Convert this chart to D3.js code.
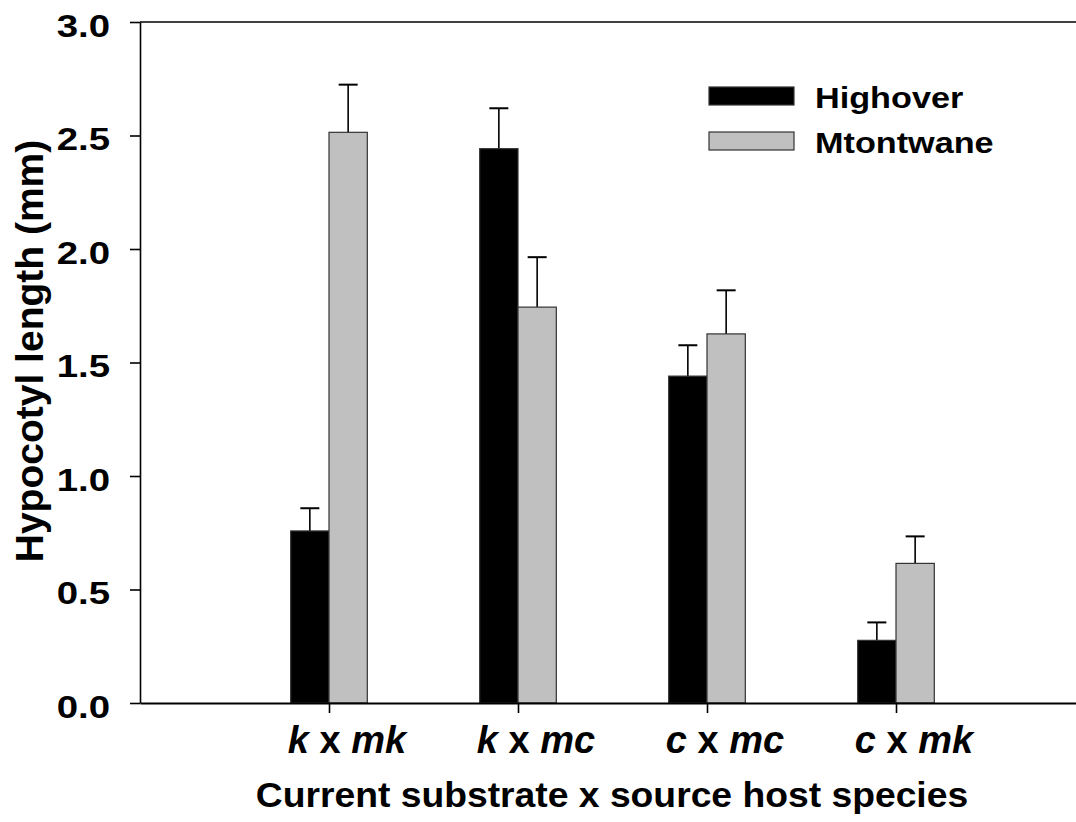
<!DOCTYPE html>
<html>
<head>
<meta charset="utf-8">
<script src="https://cdn.jsdelivr.net/npm/d3@7"></script>
<style>
  html, body { margin: 0; padding: 0; background: #fff; }
  svg { display: block; font-family: "Liberation Sans", Arial, Helvetica, sans-serif; font-weight: bold; }
</style>
</head>
<body>
<svg id="chart" width="1076" height="822"></svg>
<script>
// Hypocotyl length by substrate x host combination, two populations
const categories = [
  [{t: "k", i: true}, {t: " x ", i: false}, {t: "mk", i: true}],
  [{t: "k", i: true}, {t: " x ", i: false}, {t: "mc", i: true}],
  [{t: "c", i: true}, {t: " x ", i: false}, {t: "mc", i: true}],
  [{t: "c", i: true}, {t: " x ", i: false}, {t: "mk", i: true}]
];
const seriesNames = ["Highover", "Mtontwane"];
const highoverMean = [0.758, 2.442, 1.440, 0.276];
const highoverSE   = [0.100, 0.178, 0.136, 0.079];
const mtontwaneMean = [2.514, 1.744, 1.626, 0.615];
const mtontwaneSE   = [0.210, 0.220, 0.192, 0.119];
const yTicks = [0, 0.5, 1.0, 1.5, 2.0, 2.5, 3.0];
const seriesFill = ["#000000", "#c0c0c0"];

const svg = d3.select("#chart");
const plotLeft = 140, plotTop = 22, plotBottom = 703, plotRight = 1076;

const y = d3.scaleLinear().domain([0, 3]).range([plotBottom, plotTop]);
// categories sit at 1..4 on a continuous x axis
const x = d3.scaleLinear().domain([0, 5]).range([plotLeft, plotLeft + 5 * 189]);
const barW = x(0.2027) - x(0);

const data = categories.map((c, i) => ({
  pos: i + 1,
  vals: [
    {s: 0, mean: highoverMean[i], se: highoverSE[i]},
    {s: 1, mean: mtontwaneMean[i], se: mtontwaneSE[i]}
  ]
}));

// error bars (upper only), drawn before bars so bars cover the stem base
const eg = svg.append("g");
data.forEach(d => {
  d.vals.forEach(v => {
    const cx = v.s === 0 ? x(d.pos) - barW / 2 : x(d.pos) + barW / 2;
    eg.append("line")
      .attr("x1", cx).attr("x2", cx)
      .attr("y1", y(v.mean)).attr("y2", y(v.mean + v.se))
      .attr("stroke", "#000").attr("stroke-width", 1.6);
    eg.append("line")
      .attr("x1", cx - 9.5).attr("x2", cx + 9.5)
      .attr("y1", y(v.mean + v.se)).attr("y2", y(v.mean + v.se))
      .attr("stroke", "#000").attr("stroke-width", 2);
  });
});

// bars
const bg = svg.append("g");
data.forEach(d => {
  d.vals.forEach(v => {
    const x0 = v.s === 0 ? x(d.pos) - barW : x(d.pos);
    bg.append("rect")
      .attr("x", x0).attr("width", barW)
      .attr("y", y(v.mean)).attr("height", y(0) - y(v.mean))
      .attr("fill", seriesFill[v.s])
      .attr("stroke", "#333").attr("stroke-width", 1.2);
  });
});

// top frame line
svg.append("line")
  .attr("x1", plotLeft).attr("x2", plotRight)
  .attr("y1", y(3)).attr("y2", y(3))
  .attr("stroke", "#000").attr("stroke-width", 1.6);

// y axis
const tickScaleX = 1.2;
const yAxis = svg.append("g")
  .attr("transform", `translate(${plotLeft},0)`)
  .call(d3.axisLeft(y).tickValues(yTicks).tickFormat(d3.format(".1f")).tickSize(10).tickPadding(20).tickSizeOuter(0));
yAxis.select(".domain").attr("stroke", "#000").attr("stroke-width", 1.6);
yAxis.selectAll(".tick line").attr("stroke", "#000").attr("stroke-width", 1.6);
yAxis.selectAll(".tick text")
  .attr("font-size", 32).attr("font-weight", "bold").attr("fill", "#000")
  .attr("font-family", "Liberation Sans, Arial, sans-serif")
  .attr("x", -30 / tickScaleX)
  .attr("dy", "0.45em")
  .attr("transform", `scale(${tickScaleX},1)`);

// x axis
const xAxis = svg.append("g")
  .attr("transform", `translate(0,${plotBottom})`)
  .call(d3.axisBottom(x).tickValues([1, 2, 3, 4]).tickFormat("").tickSize(10).tickSizeOuter(0));
xAxis.select(".domain").attr("stroke", "#000").attr("stroke-width", 2.2);
xAxis.selectAll(".tick line").attr("stroke", "#000").attr("stroke-width", 1.6);

// category labels with italic species codes
categories.forEach((c, i) => {
  const t = svg.append("text")
    .attr("x", x(i + 1) + 18).attr("y", 753)
    .attr("text-anchor", "middle")
    .attr("font-size", 38).attr("font-weight", "bold");
  c.forEach(p => t.append("tspan").attr("font-style", p.i ? "italic" : "normal").text(p.t));
});

// axis titles
svg.append("text")
  .attr("transform", "translate(612,807) scale(1.065,1)")
  .attr("text-anchor", "middle")
  .attr("font-size", 35)
  .text("Current substrate x source host species");

svg.append("text")
  .attr("transform", `translate(43,351) rotate(-90)`)
  .attr("text-anchor", "middle")
  .attr("font-size", 39)
  .text("Hypocotyl length (mm)");

// legend
const legendScaleX = 1.18;
const lg = svg.append("g");
seriesNames.forEach((name, i) => {
  const ly = [87, 132][i];
  lg.append("rect")
    .attr("x", 709).attr("y", ly).attr("width", 85).attr("height", 18)
    .attr("fill", seriesFill[i]).attr("stroke", "#333").attr("stroke-width", 1.2);
  lg.append("text")
    .attr("transform", `translate(815,${ly + 21}) scale(${legendScaleX},1)`)
    .attr("font-size", 29)
    .text(name);
});
</script>
</body>
</html>
